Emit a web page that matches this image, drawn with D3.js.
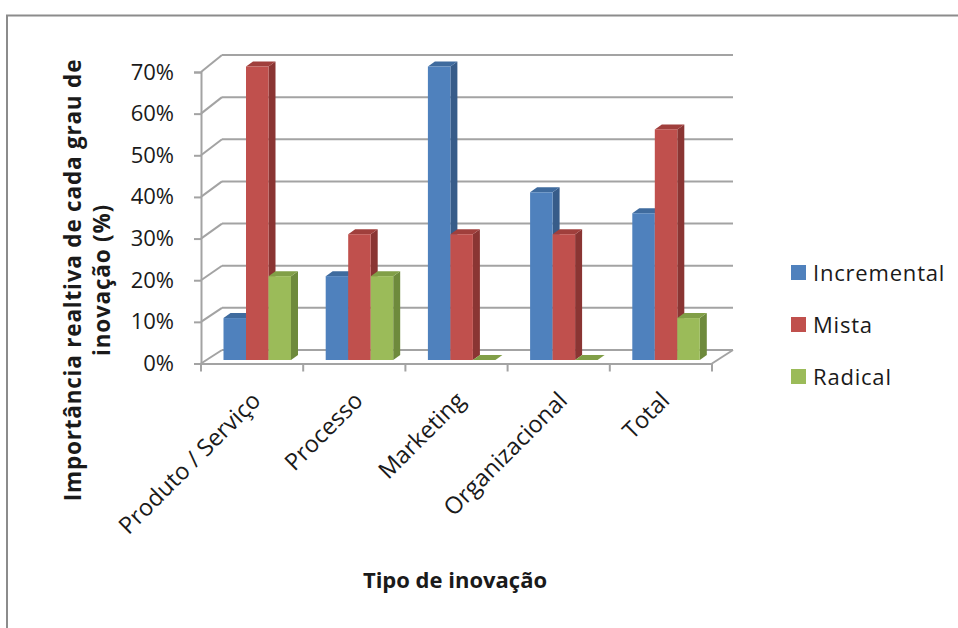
<!DOCTYPE html>
<html>
<head>
<meta charset="utf-8">
<script src="https://cdn.jsdelivr.net/npm/d3@7"></script>
<style>
  html, body { margin: 0; padding: 0; background: #fff; }
  svg { display: block; }
  text { font-family: "Open Sans", "Noto Sans", sans-serif; fill: #1a1a1a; }
</style>
</head>
<body>
<svg id="chart" width="958" height="628"></svg>
<script>
// ---- data ----
const categories = ["Produto / Serviço", "Processo", "Marketing", "Organizacional", "Total"];
const seriesNames = ["Incremental", "Mista", "Radical"];
const incremental = [10, 20, 70, 40, 35];
const mista = [70, 30, 30, 30, 55];
const radical = [20, 20, 0, 0, 10];
const yTicks = [0, 10, 20, 30, 40, 50, 60, 70];
const yTickLabels = ["0%", "10%", "20%", "30%", "40%", "50%", "60%", "70%"];
const xTitle = "Tipo de inovação";
const yTitleLines = ["Importância realtiva de cada grau de", "inovação (%)"];

// ---- styling ----
const frontColors = ["#4F81BD", "#C0504D", "#9BBB59"];
const sideColors  = ["#375C89", "#8A3533", "#6E8A3C"];
const topColors   = ["#3F6B9E", "#A03F3C", "#819F47"];
const gridColor = "#a3a3a3";

const svg = d3.select("#chart");

// frame
svg.append("path")
  .attr("d", "M7,628 L7,15.5 L958,15.5")
  .attr("fill", "none").attr("stroke", "#8c8c8c").attr("stroke-width", 2);

// geometry
const axX0 = 201, axX1 = 712;          // front axis extent
const depthDX = 21;                    // back wall horizontal offset
const yFront = d3.scaleLinear().domain([0, 70]).range([363.5, 72]);
const yBack  = d3.scaleLinear().domain([0, 70]).range([350, 55]);
const yBar   = d3.scaleLinear().domain([0, 70]).range([360, 66.5]);
const xBand  = d3.scaleBand().domain(categories).range([axX0, axX1]);
const xSeries = d3.scaleBand().domain(seriesNames).range([0, 67.5]);
const barOffset = 22.5;
const sideDX = 7, sideDY = -5;

const g = svg.append("g");

// gridlines on back wall + diagonals on left wall
yTicks.forEach(v => {
  g.append("line")
    .attr("x1", axX0 + depthDX).attr("x2", axX1 + depthDX)
    .attr("y1", yBack(v)).attr("y2", yBack(v))
    .attr("stroke", gridColor).attr("stroke-width", 2);
  g.append("line")
    .attr("x1", axX0).attr("y1", yFront(v))
    .attr("x2", axX0 + depthDX).attr("y2", yBack(v))
    .attr("stroke", gridColor).attr("stroke-width", 2);
});
// floor right edge
g.append("line")
  .attr("x1", axX1).attr("y1", yFront(0))
  .attr("x2", axX1 + depthDX).attr("y2", yBack(0))
  .attr("stroke", gridColor).attr("stroke-width", 2);

// y axis (front)
const yAxis = d3.axisLeft(yFront).tickValues(yTicks)
  .tickFormat((d, i) => yTickLabels[i]).tickSize(7).tickPadding(20);
const yAxisG = svg.append("g").attr("transform", `translate(${axX0},0)`).call(yAxis);
yAxisG.select(".domain").attr("stroke", gridColor).attr("stroke-width", 2);
yAxisG.selectAll(".tick line").attr("stroke", gridColor).attr("stroke-width", 2);
yAxisG.selectAll(".tick text")
  .style("font-family", "'Open Sans', sans-serif")
  .attr("font-size", 22).attr("fill", "#1a1a1a");

// x axis (front floor edge)
const xAxis = d3.axisBottom(xBand).tickSize(0).tickFormat("");
const xAxisG = svg.append("g").attr("transform", `translate(0,${yFront(0)})`).call(xAxis);
xAxisG.select(".domain").attr("stroke", gridColor).attr("stroke-width", 2);
// category boundary ticks
const boundaries = categories.map(c => xBand(c)).concat([axX1]);
xAxisG.selectAll(".bt").data(boundaries).enter().append("line")
  .attr("x1", d => d).attr("x2", d => d).attr("y1", 0).attr("y2", 8)
  .attr("stroke", gridColor).attr("stroke-width", 2);

// bars
const seriesData = [incremental, mista, radical];
categories.forEach((cat, ci) => {
  seriesNames.forEach((s, si) => {
    const v = seriesData[si][ci];
    const x0 = xBand(cat) + barOffset + xSeries(s);
    const w = xSeries.bandwidth();
    const yb = yBar(0), yt = yBar(v);
    const bg = g.append("g");
    // side face
    bg.append("path")
      .attr("d", `M${x0 + w},${yb} L${x0 + w + sideDX},${yb + sideDY} L${x0 + w + sideDX},${yt + sideDY} L${x0 + w},${yt} Z`)
      .attr("fill", sideColors[si]);
    // top face
    bg.append("path")
      .attr("d", `M${x0},${yt} L${x0 + sideDX},${yt + sideDY} L${x0 + w + sideDX},${yt + sideDY} L${x0 + w},${yt} Z`)
      .attr("fill", topColors[si]);
    // front face
    bg.append("rect")
      .attr("x", x0).attr("y", yt).attr("width", w).attr("height", yb - yt)
      .attr("fill", frontColors[si]);
  });
});

// x tick labels (rotated)
svg.append("g").selectAll("text").data(categories).enter().append("text")
  .attr("transform", d => `translate(${xBand(d) + xBand.bandwidth() / 2 + 10},${402}) rotate(-45)`)
  .attr("text-anchor", "end")
  .attr("font-size", 23.5)
  .text(d => d);

// x title
svg.append("text")
  .attr("x", 455).attr("y", 588)
  .attr("text-anchor", "middle")
  .attr("font-size", 22).attr("font-weight", "bold")
  .text(xTitle);

// y title (two lines)
yTitleLines.forEach((line, i) => {
  svg.append("text")
    .attr("transform", `translate(${81 + i * 29},280) rotate(-90)`)
    .attr("text-anchor", "middle")
    .attr("font-size", 22.5).attr("font-weight", "bold")
    .attr("letter-spacing", 0.8)
    .text(line);
});

// legend
const legend = svg.append("g");
seriesNames.forEach((s, i) => {
  const cy = 273 + i * 52;
  legend.append("rect")
    .attr("x", 791).attr("y", cy - 8).attr("width", 15).attr("height", 15)
    .attr("fill", frontColors[i]);
  legend.append("text")
    .attr("x", 813).attr("y", cy + 8)
    .attr("font-size", 22).attr("letter-spacing", 0.8)
    .text(s);
});
</script>
</body>
</html>
